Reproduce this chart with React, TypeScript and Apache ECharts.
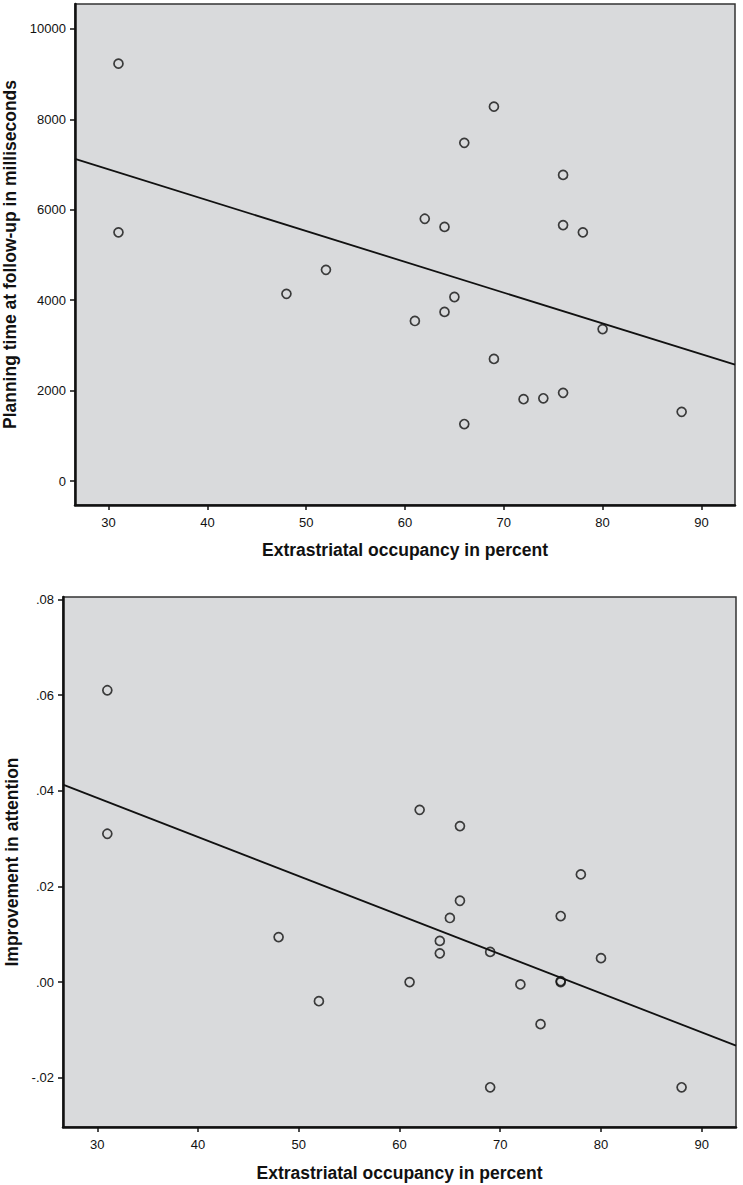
import React, { useEffect, useRef } from "react";
import * as echarts from "echarts";

// ---- Data ----
const occupancyTop = [31, 31, 52, 48, 69, 66, 76, 62, 64, 76, 78, 65, 61, 64, 80, 69, 72, 74, 76, 66, 88];
const planningTime = [9230, 5500, 4670, 4140, 8280, 7480, 6770, 5800, 5620, 5660, 5500, 4070, 3540, 3740, 3360, 2700, 1810, 1830, 1950, 1260, 1530];

const occupancyBottom = [31, 31, 48, 52, 62, 66, 78, 66, 76, 65, 64, 64, 69, 80, 61, 72, 76, 76, 74, 69, 88];
const attention = [0.061, 0.031, 0.0094, -0.004, 0.036, 0.0326, 0.0225, 0.017, 0.0138, 0.0134, 0.0086, 0.006, 0.0063, 0.005, 0.0, -0.0005, 0.0002, 0.0, -0.0088, -0.022, -0.022];

const xTicks = [30, 40, 50, 60, 70, 80, 90];
const yTicksTop = [0, 2000, 4000, 6000, 8000, 10000];
const yTicksBottom = [-0.02, 0, 0.02, 0.04, 0.06, 0.08];

const xTitle = "Extrastriatal occupancy in percent";
const yTitleTop = "Planning time at follow-up in milliseconds";
const yTitleBottom = "Improvement in attention";

const X_MIN = 26.6;
const X_MAX = 93.4;

function fit(xs: number[], ys: number[]) {
  const n = xs.length;
  const mx = xs.reduce((a, b) => a + b, 0) / n;
  const my = ys.reduce((a, b) => a + b, 0) / n;
  let sxy = 0;
  let sxx = 0;
  for (let i = 0; i < n; i++) {
    sxy += (xs[i] - mx) * (ys[i] - my);
    sxx += (xs[i] - mx) * (xs[i] - mx);
  }
  const b = sxy / sxx;
  const a = my - b * mx;
  return [
    [X_MIN, a + b * X_MIN],
    [X_MAX, a + b * X_MAX],
  ];
}

const FONT = "'Liberation Sans', Arial, sans-serif";

export default function App() {
  const ref = useRef<HTMLDivElement>(null);

  useEffect(() => {
    if (!ref.current) return;
    const chart = echarts.init(ref.current, undefined, { renderer: "svg" });

    const axisCommon = {
      axisLine: { show: true, onZero: false, lineStyle: { color: "#111", width: 2.5 } },
      axisTick: { show: true, length: 5, lineStyle: { color: "#111", width: 1.5 } },
      splitLine: { show: false },
      nameLocation: "middle" as const,
      nameTextStyle: { fontFamily: FONT, fontSize: 17.5, fontWeight: "bold" as const, color: "#111" },
    };
    const labelCommon = { fontFamily: FONT, fontSize: 13, color: "#111" };

    const fmtAtt = (v: number) => v.toFixed(2).replace(/^(-?)0\./, "$1.");

    const option: any = {
      animation: false,
      backgroundColor: "#ffffff",
      grid: [
        {
          left: 75, top: 4, width: 660, height: 501, containLabel: false, outerBoundsMode: "none",
          show: true, backgroundColor: "#d9dadc", borderColor: "#333", borderWidth: 1.5,
        },
        {
          left: 63, top: 597, width: 673, height: 530, containLabel: false, outerBoundsMode: "none",
          show: true, backgroundColor: "#d9dadc", borderColor: "#333", borderWidth: 1.5,
        },
      ],
      xAxis: [
        {
          ...axisCommon,
          type: "value", gridIndex: 0, min: X_MIN, max: X_MAX,
          name: xTitle, nameGap: 36,
          axisTick: { ...axisCommon.axisTick, customValues: xTicks },
          axisLabel: { ...labelCommon, customValues: xTicks, margin: 11 },
        },
        {
          ...axisCommon,
          type: "value", gridIndex: 1, min: X_MIN, max: X_MAX,
          name: xTitle, nameGap: 37,
          axisTick: { ...axisCommon.axisTick, customValues: xTicks },
          axisLabel: { ...labelCommon, customValues: xTicks, margin: 11 },
        },
      ],
      yAxis: [
        {
          ...axisCommon,
          type: "value", gridIndex: 0, min: -530, max: 10550,
          name: yTitleTop, nameGap: 54,
          axisTick: { ...axisCommon.axisTick, customValues: yTicksTop },
          axisLabel: { ...labelCommon, customValues: yTicksTop, margin: 9, formatter: (v: number) => String(Math.round(v)) },
        },
        {
          ...axisCommon,
          type: "value", gridIndex: 1, min: -0.0303, max: 0.0805,
          name: yTitleBottom, nameGap: 42,
          axisTick: { ...axisCommon.axisTick, customValues: yTicksBottom },
          axisLabel: { ...labelCommon, customValues: yTicksBottom, margin: 9, formatter: (v: number) => fmtAtt(v) },
        },
      ],
      series: [
        {
          type: "scatter", xAxisIndex: 0, yAxisIndex: 0,
          data: occupancyTop.map((x, i) => [x, planningTime[i]]),
          symbol: "circle", symbolSize: 9,
          itemStyle: { color: "rgba(0,0,0,0)", borderColor: "#111", borderWidth: 1.7 },
        },
        {
          type: "line", xAxisIndex: 0, yAxisIndex: 0,
          data: fit(occupancyTop, planningTime),
          showSymbol: false, symbol: "none",
          lineStyle: { color: "#111", width: 1.8 },
        },
        {
          type: "scatter", xAxisIndex: 1, yAxisIndex: 1,
          data: occupancyBottom.map((x, i) => [x, attention[i]]),
          symbol: "circle", symbolSize: 9,
          itemStyle: { color: "rgba(0,0,0,0)", borderColor: "#111", borderWidth: 1.7 },
        },
        {
          type: "line", xAxisIndex: 1, yAxisIndex: 1,
          data: fit(occupancyBottom, attention),
          showSymbol: false, symbol: "none",
          lineStyle: { color: "#111", width: 1.8 },
        },
      ],
    };

    chart.setOption(option);
    return () => chart.dispose();
  }, []);

  return (
    <div
      ref={ref}
      style={{ position: "absolute", left: 0, top: 0, width: 743, height: 1185, background: "#fff" }}
    />
  );
}
